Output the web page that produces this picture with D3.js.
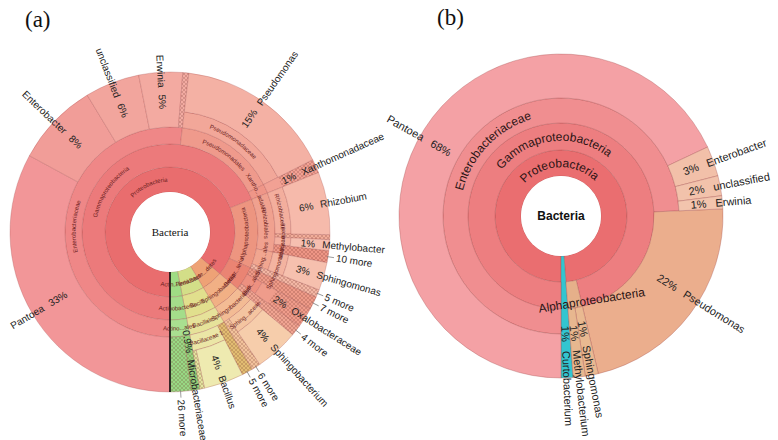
<!DOCTYPE html>
<html><head><meta charset="utf-8">
<script src="https://cdn.jsdelivr.net/npm/d3@7"></script>
<style>body{margin:0;background:#fff}</style>
</head><body>
<svg id="chart" width="778" height="440"></svg>
<script>
// ---------------- DATA : chart (a) ----------------
const pathsA = [
  "Proteobacteria/Gammaproteobacteria/Enterobacteriaceae/Pantoea",
  "Proteobacteria/Gammaproteobacteria/Enterobacteriaceae/Enterobacter",
  "Proteobacteria/Gammaproteobacteria/Enterobacteriaceae/unclassified",
  "Proteobacteria/Gammaproteobacteria/Enterobacteriaceae/Erwinia",
  "Proteobacteria/Gammaproteobacteria/Enterobacteriaceae/",
  "Proteobacteria/Gammaproteobacteria/Pseudomonadales/Pseudomonadaceae/Pseudomonas",
  "Proteobacteria/Gammaproteobacteria/Xantho...adales/Xanthomonadaceae",
  "Proteobacteria/Alphaproteobacteria/Rhizobiales/Rhizobiaceae/Rhizobium",
  "Proteobacteria/Alphaproteobacteria/Rhizobiales/",
  "Proteobacteria/Alphaproteobacteria/Rhizobiales/Methy...aceae/Methylobacter",
  "Proteobacteria/Alphaproteobacteria/Rhizobiales/10 more",
  "Proteobacteria/Alphaproteobacteria/Sphing...ales/Sphingomonadaceae/Sphingomonas",
  "Proteobacteria/Alphaproteobacteria/5 more",
  "Proteobacteria/Betapr...teria/7 more",
  "Proteobacteria/Betapr...teria/Burk...ales/Oxalobacteraceae",
  "Proteobacteria/Betapr...teria/4 more",
  "Bacte...detes/Sphingobacteriia/Sphingobacteriales/Sphing...aceae/Sphingobacterium",
  "Bacte...detes/Sphingobacteriia/Sphingobacteriales/6 more",
  "Firmicutes/Bacilli/Bacillales/5 more",
  "Firmicutes/Bacilli/Bacillales/Bacillaceae 1/Bacillus",
  "Firmicutes/Bacilli/Bacillales/Bacillaceae 1/",
  "Actin...teria/Actinobacteria/Actino...ales/Microbacteriaceae",
  "Actin...teria/Actinobacteria/Actino...ales/26 more"
];
const valuesA = [32.8, 8.4, 5.5, 4.4, 0.6, 15.6, 1.4, 6.3, 0.5, 1.1, 1.2, 2.8, 0.8,
                 1.3, 2.0, 1.1, 4.4, 0.9, 1.1, 4.0, 0.45, 0.9, 2.1];
const pctA = ["33%", "8%", "6%", "5%", "", "15%", "1%", "6%", "", "1%", "", "3%", "",
              "", "2%", "", "4%", "", "", "4%", "", "0.9%", ""];

// ---------------- DATA : chart (b) ----------------
const pathsB = [
  "Proteobacteria/Gammaproteobacteria/Enterobacteriaceae/Pantoea",
  "Proteobacteria/Gammaproteobacteria/Enterobacteriaceae/Enterobacter",
  "Proteobacteria/Gammaproteobacteria/Enterobacteriaceae/unclassified",
  "Proteobacteria/Gammaproteobacteria/Enterobacteriaceae/Erwinia",
  "Proteobacteria/Gammaproteobacteria/Pseudomonas",
  "Proteobacteria/Alphaproteobacteria/Sphingomonas",
  "Proteobacteria/Alphaproteobacteria/Methylobacterium",
  "Curtobacterium"
];
const valuesB = [68, 3, 2, 1.3, 22, 1.3, 1.2, 1.2];
const pctB = ["68%", "3%", "2%", "1%", "22%", "1%", "1%", "1%"];

// ---------------- STYLE ----------------
const colorsA = {
  "Proteobacteria": "#e96d6e", "Gammaproteobacteria": "#ec7a7b", "Enterobacteriaceae": "#ef8787",
  "Pantoea": "#f29698", "Enterobacter": "#f19d98", "unclassified": "#f2a59d", "Erwinia": "#f3aaa1",
  "Enterobacteriaceae/": "#f3aca3",
  "Pseudomonadales": "#ef9a8c", "Pseudomonadaceae": "#f2a799", "Pseudomonas": "#f4b1a4",
  "Xantho...adales": "#ef9688", "Xanthomonadaceae": "#f2a194",
  "Alphaproteobacteria": "#ed9580", "Rhizobiales": "#f0a18f", "Rhizobiaceae": "#f3ae9d", "Rhizobium": "#f6baab",
  "Rhizobiales/": "#f2ad9a", "Methy...aceae": "#f3b0a0", "Methylobacter": "#f6bfb0",
  "Rhizobiales/10 more": "#ee9686", "Sphing...ales": "#f1a690", "Sphingomonadaceae": "#f3b3a0",
  "Sphingomonas": "#f6c0ae", "Alphaproteobacteria/5 more": "#f3b7a5",
  "Betapr...teria": "#ea8473", "Burk...ales": "#ed9080", "Oxalobacteraceae": "#ef9c8b",
  "Betapr...teria/7 more": "#ee9a88", "Betapr...teria/4 more": "#f0a492",
  "Bacte...detes": "#eea276", "Sphingobacteriia": "#f1b085", "Sphingobacteriales": "#f3bb94",
  "Sphing...aceae": "#f4c4a0", "Sphingobacterium": "#f6cdab", "Sphingobacteriales/6 more": "#f2c29c",
  "Firmicutes": "#d3de88", "Bacilli": "#e1df8d", "Bacillales": "#e6e29a", "Bacillaceae 1": "#ebe6a6",
  "Bacillus": "#eeeab0", "Bacillales/5 more": "#e2bd72", "Bacillaceae 1/": "#e4e5a0",
  "Actin...teria": "#9fdc84", "Actinobacteria": "#a4dd8a", "Actino...ales": "#a9df90",
  "Microbacteriaceae": "#93d57c", "Actino...ales/26 more": "#98d884"
};
const colorsB = {
  "Proteobacteria": "#ea6e70", "Gammaproteobacteria": "#ed7e80", "Enterobacteriaceae": "#f08e90",
  "Pantoea": "#f4a1a5", "Enterobacter": "#f2c0a9", "unclassified": "#f2c2ab", "Erwinia": "#f2c4ad",
  "Pseudomonas": "#ebae8d", "Alphaproteobacteria": "#e6b08a", "Sphingomonas": "#e9b991",
  "Methylobacterium": "#e7b78f", "Curtobacterium": "#33c5d0"
};

const cfgA = {
  cx: 170, cy: 232, radii: [0, 40, 65, 88, 105, 121], R: 160,
  colors: colorsA, hatched: ["Xanthomonadaceae", "Oxalobacteraceae", "Microbacteriaceae"],
  fsLeaf: 10, fsInner: 6, innerColor: "#6b1d1d", gap: 7,
  pctCenter: {"Microbacteriaceae": 111}, leafAngle: {}, straight: {},
  stroke: "rgba(160,70,70,0.45)", centerFont: "'Liberation Serif','Times New Roman',serif",
  centerWeight: "normal", centerSize: 11, tag: "(a)", tagX: 25, tagY: 27, startLine: true
};
const cfgB = {
  cx: 561, cy: 216, radii: [0, 40, 66, 93, 118], R: 162,
  colors: colorsB, hatched: [],
  fsLeaf: 11, fsInner: 12, innerColor: "#2b1414", gap: 9,
  pctCenter: {"Curtobacterium": 118, "Methylobacterium": 118, "Sphingomonas": 115},
  leafAngle: {"Pantoea": 299.5, "Pseudomonas": 122},
  straight: {"Alphaproteobacteria": {deg: 160, r: 89.5, rot: -9}},
  stroke: "rgba(160,70,70,0.55)", centerFont: "'Liberation Sans',Arial,sans-serif",
  centerWeight: "bold", centerSize: 12, tag: "(b)", tagX: 437, tagY: 25, startLine: false
};

// ---------------- DRAW ----------------
const svg = d3.select("#chart");
svg.append("rect").attr("width", 778).attr("height", 440).attr("fill", "#fff");
const defs = svg.append("defs");
const pat = defs.append("pattern").attr("id", "hatch").attr("patternUnits", "userSpaceOnUse")
  .attr("width", 4).attr("height", 4);
pat.append("path").attr("d", "M-1,1 L1,-1 M0,4 L4,0 M3,5 L5,3")
  .attr("stroke", "rgba(110,50,40,0.38)").attr("stroke-width", 0.6);
pat.append("path").attr("d", "M-1,3 L1,5 M0,0 L4,4 M3,-1 L5,1")
  .attr("stroke", "rgba(110,50,40,0.38)").attr("stroke-width", 0.6);

function buildTree(paths, values, pcts) {
  const root = {name: "Bacteria", children: []};
  paths.forEach((p, i) => {
    const parts = p.split("/");
    let node = root;
    parts.forEach((nm, j) => {
      if (j === parts.length - 1) {
        node.children.push({name: nm, value: values[i], pct: pcts[i]});
      } else {
        let c = node.children.find(c => c.name === nm && c.children);
        if (!c) { c = {name: nm, children: []}; node.children.push(c); }
        node = c;
      }
    });
  });
  return root;
}

let pathId = 0;
const sans = "'Liberation Sans',Arial,sans-serif";

function drawChart(paths, values, pcts, cfg) {
  const tree = buildTree(paths, values, pcts);
  const root = d3.partition().size([2 * Math.PI, 1])(
    d3.hierarchy(tree).sum(d => d.children ? 0 : (d.value || 0)));
  const g = svg.append("g").attr("transform", `translate(${cfg.cx},${cfg.cy})`);
  const rIn = d => cfg.radii[d.depth];
  const rOut = d => d.children ? cfg.radii[d.depth + 1] : cfg.R;
  const colorOf = d => {
    const key = (d.parent ? d.parent.data.name : "") + "/" + d.data.name;
    if (cfg.colors[key]) return cfg.colors[key];
    if (cfg.colors[d.data.name]) return cfg.colors[d.data.name];
    return d.parent && d.parent.depth > 0 ? d3.color(colorOf(d.parent)).brighter(0.15).formatHex() : "#ddd";
  };
  const midDeg = d => ((180 + (d.x0 + d.x1) / 2 * 180 / Math.PI) % 360 + 360) % 360;
  const arc = d3.arc()
    .startAngle(d => Math.PI + d.a0).endAngle(d => Math.PI + d.a1)
    .innerRadius(d => d.r0).outerRadius(d => d.r1);

  const nodes = root.descendants().filter(d => d.depth > 0);
  g.selectAll("path.w").data(nodes).join("path").attr("class", "w")
    .attr("d", d => arc({a0: d.x0, a1: d.x1, r0: rIn(d), r1: rOut(d)}))
    .attr("fill", colorOf).attr("stroke", cfg.stroke).attr("stroke-width", 0.6);
  const leaves = root.leaves();
  leaves.forEach(d => {
    const nm = d.data.name;
    let r0 = null;
    if (nm === "" || /more$/.test(nm)) r0 = rIn(d);
    else if (cfg.hatched.includes(nm)) r0 = cfg.radii[d.depth + 1];
    if (r0 !== null) {
      g.append("path").attr("d", arc({a0: d.x0, a1: d.x1, r0: r0, r1: cfg.R}))
        .attr("fill", "url(#hatch)").attr("stroke", "none");
    }
  });
  g.append("circle").attr("r", cfg.radii[1]).attr("fill", "#fff");
  g.append("text").attr("text-anchor", "middle").attr("dy", "0.35em")
    .attr("font-family", cfg.centerFont).attr("font-weight", cfg.centerWeight)
    .attr("font-size", cfg.centerSize).attr("fill", "#111").text("Bacteria");
  if (cfg.startLine) {
    g.append("line").attr("x1", 0).attr("y1", cfg.radii[1]).attr("x2", 0).attr("y2", cfg.R)
      .attr("stroke", "#111").attr("stroke-width", 1.6);
  }
  // inner (tangential) labels
  const lg = g.append("g");
  nodes.filter(d => d.children).forEach(d => {
    const nm = d.data.name;
    const fs = cfg.fsInner;
    const st = cfg.straight[nm];
    if (st) {
      const t = st.deg * Math.PI / 180;
      lg.append("text").attr("font-family", sans).attr("font-size", fs).attr("fill", cfg.innerColor)
        .attr("text-anchor", "middle").attr("dy", "0.35em")
        .attr("transform", `translate(${st.r * Math.sin(t)},${-st.r * Math.cos(t)}) rotate(${st.rot})`)
        .text(nm);
      return;
    }
    const deg = midDeg(d);
    const rc = (rIn(d) + rOut(d)) / 2;
    const upright = deg <= 90 || deg >= 270;
    const rb = upright ? rc - fs * 0.35 : rc + fs * 0.35;
    const span = 85 * Math.PI / 180, t = deg * Math.PI / 180;
    const a0 = upright ? t - span : t + span, a1 = upright ? t + span : t - span;
    const id = "lp" + (pathId++);
    lg.append("path").attr("id", id).attr("fill", "none").attr("stroke", "none")
      .attr("d", `M${rb * Math.sin(a0)},${-rb * Math.cos(a0)} A${rb},${rb} 0 0 ${upright ? 1 : 0} ${rb * Math.sin(a1)},${-rb * Math.cos(a1)}`);
    lg.append("text").attr("font-family", sans).attr("font-size", fs).attr("fill", cfg.innerColor)
      .append("textPath").attr("href", "#" + id).attr("startOffset", "50%")
      .attr("text-anchor", "middle").text(nm);
  });
  // leaf labels (radial)
  leaves.forEach(d => {
    const nm = d.data.name;
    if (nm === "") return;
    const deg = cfg.leafAngle[nm] !== undefined ? cfg.leafAngle[nm] : midDeg(d);
    const right = deg < 180;
    const s = right ? 1 : -1;
    const gg = g.append("g").attr("transform", `rotate(${right ? deg - 90 : deg + 90})`)
      .attr("font-family", sans).attr("font-size", cfg.fsLeaf).attr("fill", "#222");
    if (/more$/.test(nm)) {
      gg.append("line").attr("x1", s * (cfg.R - 1)).attr("x2", s * (cfg.R + 6))
        .attr("stroke", "#777").attr("stroke-width", 0.7);
      gg.append("text").attr("x", s * (cfg.R + 8)).attr("dy", "0.35em")
        .attr("text-anchor", right ? "start" : "end").text(nm);
      return;
    }
    const rc = cfg.pctCenter[nm] !== undefined ? cfg.pctCenter[nm] : (rIn(d) + cfg.R) / 2 - 2;
    const pt = gg.append("text").attr("x", s * rc).attr("dy", "0.35em")
      .attr("text-anchor", "middle").text(d.data.pct);
    const w = pt.node().getComputedTextLength();
    gg.append("text").attr("x", s * (rc + w / 2 + cfg.gap)).attr("dy", "0.35em")
      .attr("text-anchor", right ? "start" : "end").text(nm);
  });
  svg.append("text").attr("x", cfg.tagX).attr("y", cfg.tagY)
    .attr("font-family", "'Liberation Serif','Times New Roman',serif").attr("font-size", 23)
    .attr("fill", "#111").text(cfg.tag);
}

drawChart(pathsA, valuesA, pctA, cfgA);
drawChart(pathsB, valuesB, pctB, cfgB);
</script>
</body></html>
